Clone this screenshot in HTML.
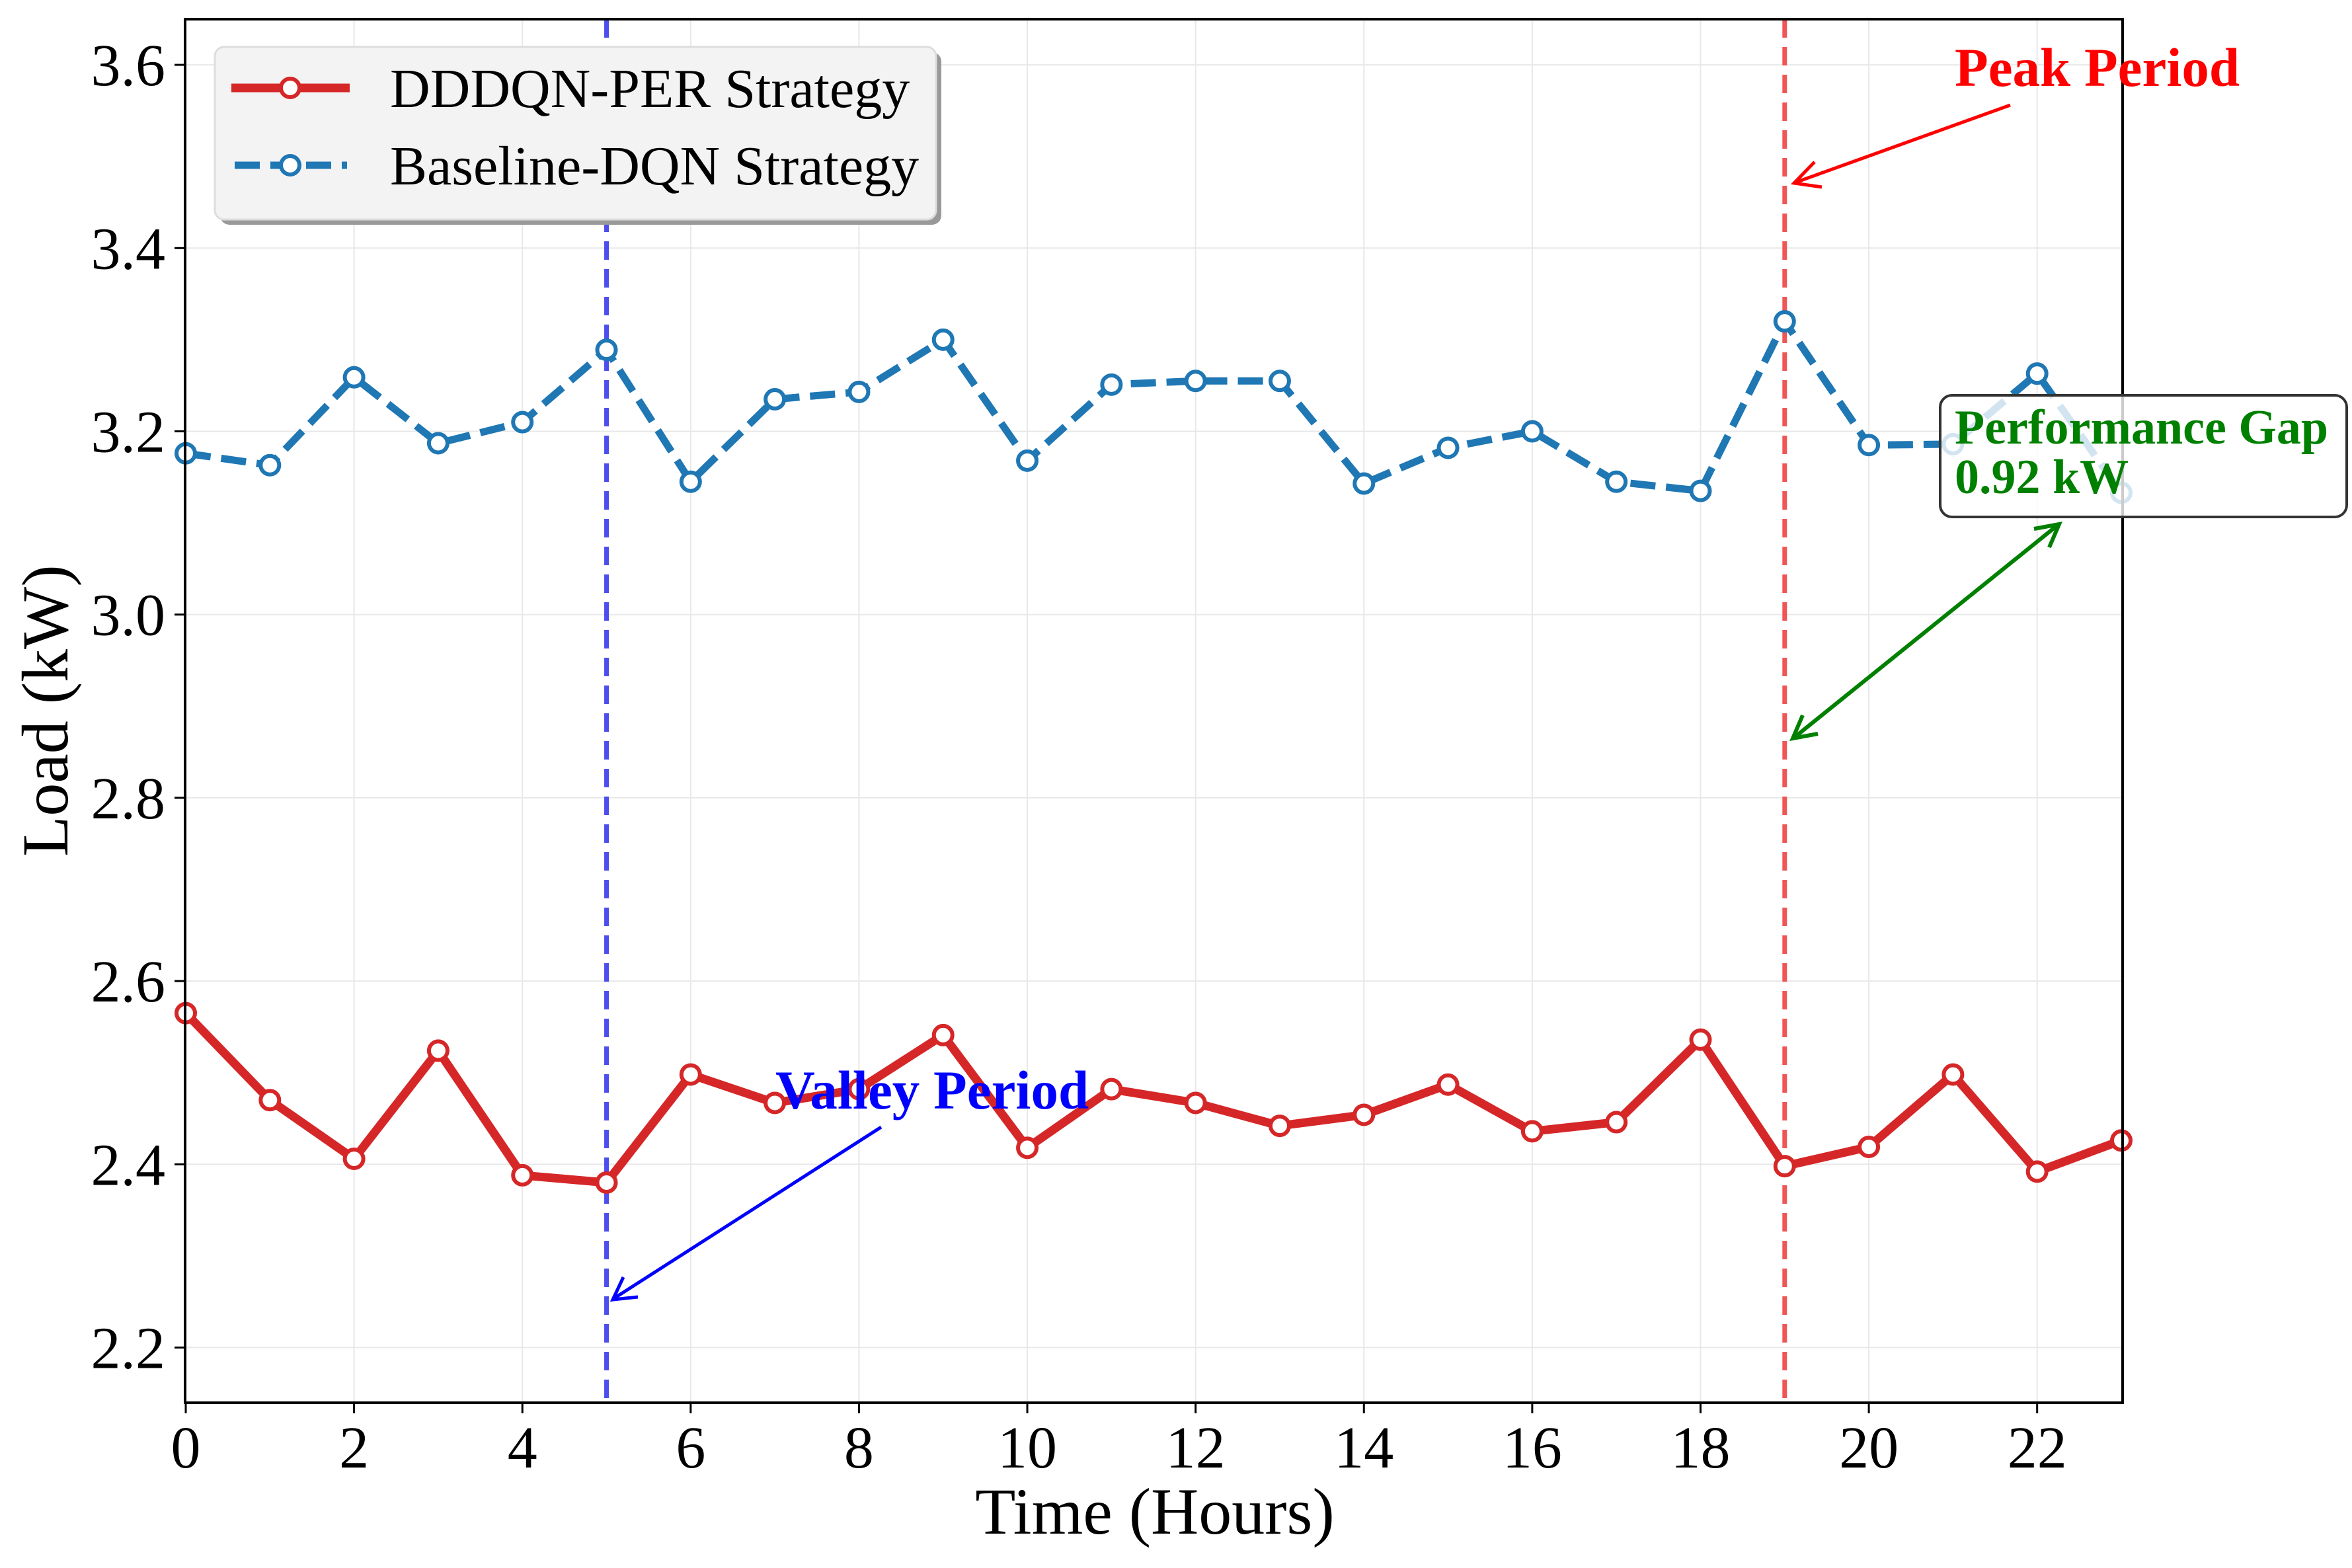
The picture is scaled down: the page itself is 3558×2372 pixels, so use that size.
<!DOCTYPE html>
<html><head><meta charset="utf-8"><style>
html,body{margin:0;padding:0;background:#fff;}
svg{display:block;font-family:"Liberation Serif",serif;}
</style></head><body>
<svg id="chart" width="3558" height="2372" viewBox="0 0 3558 2372" xmlns="http://www.w3.org/2000/svg">
<g id="grid"></g>
<g id="vlines"></g>
<g id="series"></g>
<rect x="280" y="29" width="2931" height="2093" fill="none" stroke="#000" stroke-width="4"/>
<g id="ticks"></g>
<text x="1747" y="2320" font-size="100" text-anchor="middle">Time (Hours)</text>
<text x="0" y="0" font-size="100" text-anchor="middle" transform="translate(102,1075) rotate(-90)">Load (kW)</text>
<g>
<rect x="333" y="79" width="1091" height="261" rx="14" fill="#999"/>
<rect x="325" y="71" width="1091" height="261" rx="14" fill="#f3f3f3" stroke="#ddd" stroke-width="3"/>
<line x1="350" y1="133" x2="529" y2="133" stroke="#d62728" stroke-width="13"/>
<circle cx="439" cy="133" r="14" fill="#fff" stroke="#d62728" stroke-width="6"/>
<text x="590" y="162" font-size="84">DDDQN-PER Strategy</text>
<line x1="355" y1="250" x2="525" y2="250" stroke="#1f77b4" stroke-width="11" stroke-dasharray="38,16"/>
<circle cx="439" cy="250" r="14" fill="#fff" stroke="#1f77b4" stroke-width="6"/>
<text x="590" y="279" font-size="84">Baseline-DQN Strategy</text>
</g>
<g>
<text x="2957" y="130" font-size="83" font-weight="bold" fill="red">Peak Period</text>
<line x1="3041" y1="159" x2="2716" y2="276" stroke="red" stroke-width="5"/>
<path d="M2745,245 L2714,277 L2756,283" fill="none" stroke="red" stroke-width="5"/>
<rect x="2935" y="598" width="615" height="184" rx="18" fill="rgba(255,255,255,0.8)" stroke="#333" stroke-width="4"/>
<text x="2957" y="671" font-size="74" font-weight="bold" fill="green">Performance Gap</text>
<text x="2957" y="746" font-size="74" font-weight="bold" fill="green">0.92 kW</text>
<line x1="3112" y1="795" x2="2715" y2="1115" stroke="green" stroke-width="6"/>
<path d="M3077,800 L3115,793 L3100,828" fill="none" stroke="green" stroke-width="6"/>
<path d="M2727,1082 L2712,1117 L2750,1110" fill="none" stroke="green" stroke-width="6"/>
<text x="1173" y="1677" font-size="83" font-weight="bold" fill="blue">Valley Period</text>
<line x1="1333" y1="1705" x2="929" y2="1964" stroke="blue" stroke-width="5"/>
<path d="M943,1932 L927,1966 L965,1962" fill="none" stroke="blue" stroke-width="5"/>
</g>
</svg>
<script>
const hours = [0,1,2,3,4,5,6,7,8,9,10,11,12,13,14,15,16,17,18,19,20,21,22,23];
const dddqn = [2.565,2.470,2.406,2.524,2.388,2.380,2.498,2.467,2.482,2.541,2.418,2.482,2.467,2.442,2.454,2.487,2.436,2.446,2.536,2.398,2.419,2.498,2.392,2.426];
const baseline = [3.176,3.163,3.259,3.187,3.210,3.289,3.145,3.235,3.243,3.300,3.168,3.251,3.255,3.255,3.143,3.182,3.200,3.145,3.135,3.320,3.185,3.186,3.263,3.133];
const xTicks = [0,2,4,6,8,10,12,14,16,18,20,22];
const yTicks = [2.2,2.4,2.6,2.8,3.0,3.2,3.4,3.6];
const yTickLabels = ["2.2","2.4","2.6","2.8","3.0","3.2","3.4","3.6"];
const periodHours = [5,19];

const NS="http://www.w3.org/2000/svg";
const L=280,R=3211,T=29,B=2122;
function xs(h){return 281+(h-0)*(3209-281)/23;}
function ys(v){return 2038.5-(v-2.2)*1386;}
function mk(tag,attrs,parent){const e=document.createElementNS(NS,tag);for(const k in attrs)e.setAttribute(k,attrs[k]);parent.appendChild(e);return e;}
const grid=document.getElementById('grid'),ticks=document.getElementById('ticks'),series=document.getElementById('series'),vl=document.getElementById('vlines');
xTicks.forEach(t=>{
  const g=mk('line',{x1:xs(t),x2:xs(t),y1:T,y2:B,stroke:'#e8e8e8','stroke-width':2},grid);
  
  
  const tk=mk('line',{x1:xs(t),x2:xs(t),y1:B,y2:B+16,stroke:'#000','stroke-width':3},ticks);
  
  
  const tx=mk('text',{x:xs(t),y:B+98,'font-size':90,'text-anchor':'middle'},ticks);
  tx.textContent=t;
  
  
});
yTicks.forEach((v,i)=>{
  const g=mk('line',{x1:L,x2:R,y1:ys(v),y2:ys(v),stroke:'#e8e8e8','stroke-width':2},grid);
  
  
  const tk=mk('line',{x1:L-16,x2:L,y1:ys(v),y2:ys(v),stroke:'#000','stroke-width':3},ticks);
  
  
  const tx=mk('text',{x:L-30,y:ys(v)+31,'font-size':90,'text-anchor':'end'},ticks);
  tx.textContent=yTickLabels[i];
  
  
});
periodHours.forEach((h,i)=>{
  const l=mk('line',{x1:xs(h),x2:xs(h),y1:T,y2:B,stroke:i===0?'#3b3bee':'#ee4444','stroke-width':7,'stroke-dasharray':'28,14',opacity:0.9},vl);
  
  
});
function drawSeries(vals,color,dash,name,w){
  const pts=vals.map((v,i)=>xs(hours[i])+','+ys(v)).join(' ');
  const pl=mk('polyline',{points:pts,fill:'none',stroke:color,'stroke-width':w,'stroke-dasharray':dash,'stroke-linejoin':'round'},series);
  
  
  vals.forEach((v,i)=>{
    const c=mk('circle',{cx:xs(hours[i]),cy:ys(v),r:14,fill:'#fff',stroke:color,'stroke-width':6},series);
    
    
  });
}
drawSeries(baseline,'#1f77b4','38,16','baseline',11);
drawSeries(dddqn,'#d62728','none','dddqn',13);
</script>
</body></html>
